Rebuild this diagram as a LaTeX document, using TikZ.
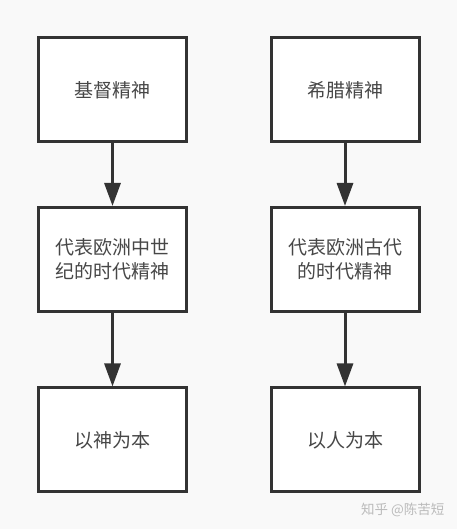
\documentclass[tikz,border=0pt]{standalone}
\usepackage{fontspec}
\setmainfont{Noto Sans CJK SC}
\usetikzlibrary{arrows.meta,positioning}
\definecolor{bg}{HTML}{F9F9F9}
\definecolor{ink}{HTML}{333333}
\definecolor{mark}{HTML}{BBBBBB}

\begin{document}
\begin{tikzpicture}[x=1pt,y=1pt,
	box/.style={draw=ink, line width=3pt, fill=white, inner sep=0pt,
		minimum width=148pt, minimum height=104pt, align=center,
		text=ink!90, font=\fontsize{19}{24}\selectfont},
	link/.style={draw=ink, line width=3pt, -{Triangle[length=23pt,width=16pt]}}]
	% Background
	\fill[bg] (0,0) rectangle (457,529);
	\useasboundingbox (0,0) rectangle (457,529);
	% Left column
	\node[box] (christ) at (112.5,439) {基督精神};
	\node[box] (medieval) at (112.5,269.5) {代表欧洲中世\\纪的时代精神};
	\node[box] (god) at (112.5,89) {以神为本};
	% Right column
	\node[box] (greek) at (345,439) {希腊精神};
	\node[box] (ancient) at (345,269.5) {代表欧洲古代\\的时代精神};
	\node[box] (human) at (345,89) {以人为本};
	% Arrows
	\draw[link] (christ) -- (medieval);
	\draw[link] (medieval) -- (god);
	\draw[link] (greek) -- (ancient);
	\draw[link] (ancient) -- (human);
	% Watermark
	\node[text=mark, font=\fontsize{13.5}{16}\selectfont, anchor=east] (zhihu) at (448,19) {知乎 @陈苦短};
\end{tikzpicture}
\end{document}
